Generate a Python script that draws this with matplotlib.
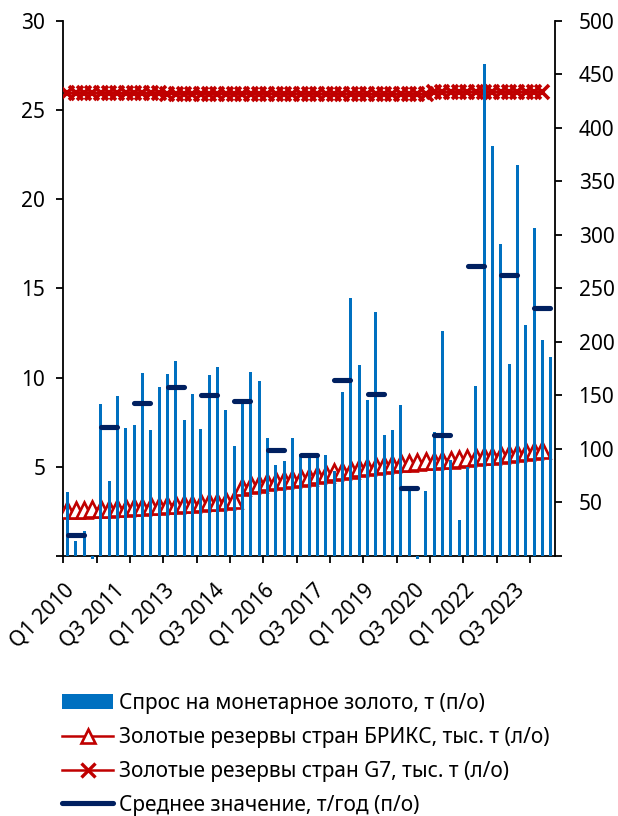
import numpy as np
import matplotlib
matplotlib.use("Agg")
import matplotlib.pyplot as plt
from matplotlib.lines import Line2D
from matplotlib.patches import Patch
from matplotlib.markers import MarkerStyle
from matplotlib.transforms import ScaledTranslation

plt.rcParams['font.family'] = ['Noto Sans', 'DejaVu Sans']

# ---------------- data ----------------
years = list(range(2010, 2025))
quarters = [f"Q{q} {y}" for y in years for q in (1, 2, 3, 4)][:59]   # Q1 2010 .. Q3 2024

# quarterly monetary gold demand, t (right axis)
demand = [60, 14, 23, -3,
          142, 70, 149, 120,
          122, 171, 118, 158,
          170, 182, 127, 151,
          119, 169, 177, 136,
          103, 142, 172, 163,
          110, 85, 89, 110,
          95, 95, 95, 94,
          79, 153, 241, 178,
          146, 228, 113, 118,
          141, 64, -3, 61,
          116, 210, 90, 34,
          83, 159, 460, 383,
          291, 179, 365, 216,
          306, 202, 186]

# BRICS gold reserves, thousand t (left axis), to Q2 2024
brics = [2.55, 2.57, 2.60, 2.62, 2.64, 2.66, 2.69, 2.71, 2.74, 2.77,
         2.80, 2.83, 2.86, 2.88, 2.91, 2.93, 2.96, 3.00, 3.05, 3.10,
         3.15, 3.88, 3.96, 4.04, 4.12, 4.18, 4.24, 4.30, 4.36, 4.42,
         4.52, 4.60, 4.68, 4.76, 4.84, 4.91, 4.98, 5.04, 5.10, 5.15,
         5.20, 5.24, 5.28, 5.30, 5.32, 5.36, 5.40, 5.44, 5.48, 5.53,
         5.58, 5.63, 5.68, 5.73, 5.78, 5.83, 5.89, 5.95, np.nan]

# G7 gold reserves, thousand t (left axis), to Q2 2024
g7 = [25.94, 25.94, 25.94, 25.94, 25.94, 25.94, 25.93, 25.93, 25.93, 25.93,
      25.93, 25.93, 25.92, 25.92, 25.92, 25.92, 25.92, 25.92, 25.91, 25.91,
      25.91, 25.91, 25.91, 25.91, 25.90, 25.90, 25.90, 25.90, 25.90, 25.90,
      25.89, 25.89, 25.89, 25.89, 25.89, 25.88, 25.88, 25.88, 25.88, 25.88,
      25.88, 25.88, 25.88, 25.88, 26.00, 26.00, 26.00, 26.00, 26.00, 26.00,
      26.00, 26.00, 26.00, 26.00, 26.00, 26.00, 26.00, 26.00, np.nan]

# annual average, t (right axis), shown at Q2 of each year
avg_years = years
avg_values = [19.4, 120.5, 142.6, 157.6, 150.4, 145.0, 99.0, 94.6,
              164.2, 151.7, 63.7, 112.6, 270.9, 262.5, 231.6]

tick_labels = ["Q1 2010", "Q3 2011", "Q1 2013", "Q3 2014", "Q1 2016",
               "Q3 2017", "Q1 2019", "Q3 2020", "Q1 2022", "Q3 2023"]

legend_labels = ["Спрос на монетарное золото, т (п/о)",
                 "Золотые резервы стран БРИКС, тыс. т (л/о)",
                 "Золотые резервы стран G7, тыс. т (л/о)",
                 "Среднее значение, т/год (п/о)"]

# ---------------- styles ----------------
BLUE = '#0070C0'
RED = '#C00000'
NAVY = '#002060'
FS = 15

n = len(quarters)
x = np.arange(n)
avg_series = np.full(n, np.nan)
for yr, v in zip(avg_years, avg_values):
    idx = quarters.index(f"Q2 {yr}")
    avg_series[idx] = v

fig = plt.figure(figsize=(6.18, 8.16), dpi=100)
ax = fig.add_axes([63.3 / 618, 1 - 556 / 816, (555 - 63.3) / 618, (556 - 20.7) / 816])
ax2 = ax.twinx()

# left axis lines
ax.plot(x, brics, color=RED, lw=2.3, marker='^', markersize=11,
        markerfacecolor='white', markeredgecolor=RED, markeredgewidth=1.9, zorder=3)
ax.plot(x, g7, color=RED, lw=2.3, marker='x', markersize=9.5,
        markeredgewidth=2.6, zorder=3)

# right axis bars and averages
bars = ax2.bar(x, demand, width=0.33, color=BLUE, zorder=2, clip_on=False)
dash = MarkerStyle('_', capstyle='round')
ax2.plot(x, avg_series, linestyle='none', marker=dash, markersize=11.5,
         markeredgewidth=3.7, color=NAVY, zorder=4)

ax.set_xlim(-0.5, n - 0.5)
ax.set_ylim(0, 30)
ax2.set_ylim(0, 500)

ax.set_yticks(np.arange(0, 31, 5))
ax.set_yticklabels([''] + [str(v) for v in range(5, 31, 5)])
ax2.set_yticks(np.arange(0, 501, 50))
ax2.set_yticklabels([''] + [str(v) for v in range(50, 501, 50)])

ax.set_xticks(np.arange(-0.5, n - 1, 4))
ax.set_xticklabels([])
ax.set_xticks([quarters.index(t) for t in tick_labels], minor=True)
ax.set_xticklabels(tick_labels, minor=True, rotation=45, ha='right', va='top',
                   rotation_mode='anchor', fontsize=FS)
ax.tick_params(axis='x', which='minor', length=0, pad=17)
offset = ScaledTranslation(-4 / 100, 0, fig.dpi_scale_trans)
for lbl in ax.get_xticklabels(minor=True):
    lbl.set_transform(lbl.get_transform() + offset)

for a in (ax, ax2):
    a.tick_params(axis='both', which='major', direction='out', length=5,
                  width=1.3, labelsize=FS, colors='black')
    for s in a.spines.values():
        s.set_linewidth(1.3)
    a.spines['top'].set_visible(False)
ax.tick_params(axis='y', pad=8)
ax2.tick_params(axis='y', pad=12)
ax.spines['right'].set_visible(False)
ax2.spines['left'].set_visible(False)
ax2.spines['bottom'].set_visible(False)
ax.set_facecolor('none')

handles = [Patch(facecolor=BLUE, edgecolor='none'),
           Line2D([], [], color=RED, lw=1.8, marker='^', markersize=10,
                  markerfacecolor='white', markeredgewidth=1.9),
           Line2D([], [], color=RED, lw=1.8, marker='x', markersize=9.5,
                  markeredgewidth=2.4),
           Line2D([], [], color=NAVY, lw=3.7, solid_capstyle='round')]
fig.legend(handles, legend_labels, loc='upper left',
           bbox_to_anchor=(62 / 618, 1 - 693 / 816), frameon=False,
           fontsize=FS, handlelength=2.45, handletextpad=0.3,
           labelspacing=0.62, borderpad=0, borderaxespad=0, numpoints=1)

fig.savefig('out.png', dpi=100)
